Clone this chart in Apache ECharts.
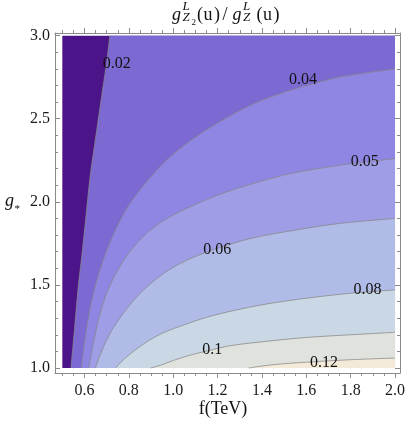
<!DOCTYPE html>
<html>
<head>
<meta charset="utf-8">
<script src="https://cdn.jsdelivr.net/npm/echarts@6/dist/echarts.min.js"></script>
<style>
html,body{margin:0;padding:0;background:#fff;}
#chart{width:409px;height:429px;}
</style>
</head>
<body>
<div id="chart"></div>
<script>
// ---- data ----
const fRange = [0.5, 2.0];          // f (TeV) extent of the plot
const gRange = [1.0, 3.0];          // g* extent of the plot
const levels = [0.02, 0.04, 0.05, 0.06, 0.08, 0.10, 0.12];
// contour lines, points [f, g*]
const c002 = [[0.539,1.0],[0.556,1.25],[0.572,1.49],[0.590,1.70],[0.605,1.89],[0.625,2.15],[0.642,2.31],[0.655,2.43],[0.680,2.66],[0.700,2.84],[0.714,3.0]];
const c004 = [[0.586,1.0],[0.600,1.15],[0.620,1.32],[0.650,1.50],[0.690,1.67],[0.740,1.83],[0.800,1.98],[0.880,2.12],[0.970,2.25],[1.080,2.37],[1.220,2.49],[1.380,2.60],[1.550,2.68],[1.750,2.75],[2.0,2.80]];
const c005 = [[0.619,1.0],[0.640,1.15],[0.665,1.30],[0.700,1.45],[0.750,1.59],[0.810,1.71],[0.880,1.81],[0.960,1.89],[1.060,1.96],[1.200,2.04],[1.360,2.11],[1.530,2.17],[1.750,2.22],[2.0,2.26]];
const c006 = [[0.649,1.0],[0.680,1.11],[0.720,1.22],[0.770,1.32],[0.830,1.42],[0.900,1.51],[0.980,1.59],[1.080,1.66],[1.200,1.72],[1.350,1.78],[1.550,1.83],[1.750,1.87],[2.0,1.90]];
const c008 = [[0.739,1.0],[0.780,1.055],[0.830,1.11],[0.890,1.165],[0.960,1.215],[1.050,1.26],[1.150,1.305],[1.270,1.345],[1.420,1.385],[1.600,1.42],[1.800,1.45],[2.0,1.47]];
const c010 = [[0.898,1.0],[0.950,1.02],[1.000,1.045],[1.070,1.075],[1.160,1.105],[1.260,1.135],[1.450,1.165],[1.610,1.185],[1.800,1.20],[2.0,1.215]];
const c012 = [[1.340,1.0],[1.450,1.02],[1.600,1.035],[1.800,1.05],[2.0,1.06]];
// contour label anchors [f, g*]
const labelPos = [[0.745,2.83],[1.585,2.735],[1.864,2.24],[1.198,1.71],[1.876,1.47],[1.176,1.11],[1.680,1.034]];
// ticks
const xMajor = [0.6,0.8,1.0,1.2,1.4,1.6,1.8,2.0];
const xMinor = [0.5,0.55,0.65,0.7,0.75,0.85,0.9,0.95,1.05,1.1,1.15,1.25,1.3,1.35,1.45,1.5,1.55,1.65,1.7,1.75,1.85,1.9,1.95];
const yMajor = [1.0,1.5,2.0,2.5,3.0];
const yMinor = [1.1,1.2,1.3,1.4,1.6,1.7,1.8,1.9,2.1,2.2,2.3,2.4,2.6,2.7,2.8,2.9];

// ---- styling ----
const bandColors = ['#4b1589','#7c6ad2','#8e86e2','#9e9de5','#b1bbe7','#c9d8e4','#dfe2dd','#f3ead9'];
const lineColor = 'rgba(135,135,135,0.85)';
const frameColor = '#8a8a8a';
const serif = '"Liberation Serif","DejaVu Serif",serif';
const SMOOTH = 0.3;

const contours = [c002, c004, c005, c006, c008, c010, c012];
const corner = (i) => i === 0 ? [[fRange[1], gRange[1]], [fRange[1], gRange[0]]] : [[fRange[1], gRange[0]]];

const series = [];
// background band (below lowest contour)
series.push({
  type: 'custom', xAxisIndex: 0, yAxisIndex: 0, silent: true,
  data: [[fRange[0], gRange[0]], [fRange[1], gRange[1]]],
  renderItem: (params, api) => {
    if (params.dataIndex !== 0) return null;
    const p0 = api.coord([fRange[0], gRange[0]]);
    const p1 = api.coord([fRange[1], gRange[1]]);
    return { type: 'rect', shape: { x: p0[0], y: p1[1], width: p1[0] - p0[0], height: p0[1] - p1[1] }, style: { fill: bandColors[0] } };
  }
});
contours.forEach((pts, i) => {
  series.push({
    type: 'custom', xAxisIndex: 0, yAxisIndex: 0, silent: true,
    data: pts,
    renderItem: (params, api) => {
      if (params.dataIndex !== 0) return null;
      const line = pts.map(p => api.coord(p));
      const first = line[0], last = line[line.length - 1];
      const cs = corner(i).map(p => api.coord(p));
      const poly = [first].concat(line, [last]);
      cs.forEach(c => { poly.push(c, c, c); });
      poly.push(first);
      return { type: 'group', children: [
        { type: 'polygon', shape: { points: poly, smooth: SMOOTH }, style: { fill: bandColors[i + 1] } },
        { type: 'polyline', shape: { points: line, smooth: SMOOTH }, style: { stroke: lineColor, lineWidth: 0.9, fill: null } }
      ]};
    }
  });
});
series.push({
  type: 'custom', xAxisIndex: 0, yAxisIndex: 0, silent: true,
  data: labelPos,
  renderItem: (params, api) => {
    const p = api.coord([api.value(0), api.value(1)]);
    return { type: 'text', x: p[0], y: p[1], style: {
      text: String(levels[params.dataIndex]), font: '16px ' + serif, fill: '#111',
      align: 'center', verticalAlign: 'middle', textAlign: 'center', textVerticalAlign: 'middle' } };
  }
});

const fmt = v => Number(v).toFixed(1);
const baseAxis = (extra) => Object.assign({
  type: 'value', gridIndex: 0, splitLine: { show: false },
  axisLine: { show: false, lineStyle: { color: frameColor, width: 1 } },
  axisTick: { show: true, lineStyle: { color: frameColor, width: 1 } },
  axisLabel: { show: false }
}, extra);

const xMin = 0.467, xMax = 2.0225, yMin = 0.97, yMax = 3.016;

const option = {
  animation: false,
  backgroundColor: '#fff',
  grid: { left: 55, top: 33, width: 345, height: 340 },
  xAxis: [
    baseAxis({ position: 'bottom', min: xMin, max: xMax,
      axisLine: { show: true, onZero: false, lineStyle: { color: frameColor } },
      axisTick: { show: true, inside: false, length: 5, customValues: xMajor, lineStyle: { color: frameColor } },
      axisLabel: { show: true, customValues: xMajor, formatter: fmt, margin: 10, color: '#1a1a1a', fontSize: 16, fontFamily: serif } }),
    baseAxis({ position: 'bottom', min: xMin, max: xMax,
      axisTick: { show: true, inside: false, length: 3, customValues: xMinor, lineStyle: { color: frameColor } } }),
    baseAxis({ position: 'top', min: xMin, max: xMax,
      axisLine: { show: true, onZero: false, lineStyle: { color: frameColor } },
      axisTick: { show: true, inside: false, length: 5, customValues: xMajor, lineStyle: { color: frameColor } } }),
    baseAxis({ position: 'top', min: xMin, max: xMax,
      axisTick: { show: true, inside: false, length: 3, customValues: xMinor, lineStyle: { color: frameColor } } })
  ],
  yAxis: [
    baseAxis({ position: 'left', min: yMin, max: yMax,
      axisLine: { show: true, onZero: false, lineStyle: { color: frameColor } },
      axisTick: { show: true, inside: true, length: 5, customValues: yMajor, lineStyle: { color: frameColor } },
      axisLabel: { show: true, customValues: yMajor, formatter: fmt, margin: 5, color: '#1a1a1a', fontSize: 16, fontFamily: serif } }),
    baseAxis({ position: 'left', min: yMin, max: yMax,
      axisTick: { show: true, inside: true, length: 3, customValues: yMinor, lineStyle: { color: frameColor } } }),
    baseAxis({ position: 'right', min: yMin, max: yMax,
      axisLine: { show: true, onZero: false, lineStyle: { color: frameColor } },
      axisTick: { show: true, inside: true, length: 5, customValues: yMajor, lineStyle: { color: frameColor } } }),
    baseAxis({ position: 'right', min: yMin, max: yMax,
      axisTick: { show: true, inside: true, length: 3, customValues: yMinor, lineStyle: { color: frameColor } } })
  ],
  series: series,
  graphic: [
    // title g^L_{Z2}(u)/g^L_Z(u)
    { type: 'text', x: 172, y: 15.4, style: { text: 'g', font: 'italic 18px ' + serif, fill: '#111', verticalAlign: 'middle', textVerticalAlign: 'middle' } },
    { type: 'text', x: 182.5, y: 7, style: { text: 'L', font: 'italic 13px ' + serif, fill: '#111', verticalAlign: 'middle', textVerticalAlign: 'middle' } },
    { type: 'text', x: 182.5, y: 17.5, style: { text: 'Z', font: 'italic 13px ' + serif, fill: '#111', verticalAlign: 'middle', textVerticalAlign: 'middle' } },
    { type: 'text', x: 191.5, y: 22.5, style: { text: '2', font: '9px ' + serif, fill: '#111', verticalAlign: 'middle', textVerticalAlign: 'middle' } },
    { type: 'text', x: 197, y: 15.4, style: { text: '(', font: '18px ' + serif, fill: '#111', verticalAlign: 'middle', textVerticalAlign: 'middle' } },
    { type: 'text', x: 203.5, y: 15.4, style: { text: 'u', font: '18px ' + serif, fill: '#111', verticalAlign: 'middle', textVerticalAlign: 'middle' } },
    { type: 'text', x: 214, y: 15.4, style: { text: ')', font: '18px ' + serif, fill: '#111', verticalAlign: 'middle', textVerticalAlign: 'middle' } },
    { type: 'text', x: 222.5, y: 15.4, style: { text: '/', font: '18px ' + serif, fill: '#111', verticalAlign: 'middle', textVerticalAlign: 'middle' } },
    { type: 'text', x: 232.5, y: 15.4, style: { text: 'g', font: 'italic 18px ' + serif, fill: '#111', verticalAlign: 'middle', textVerticalAlign: 'middle' } },
    { type: 'text', x: 243, y: 7, style: { text: 'L', font: 'italic 13px ' + serif, fill: '#111', verticalAlign: 'middle', textVerticalAlign: 'middle' } },
    { type: 'text', x: 243, y: 17.5, style: { text: 'Z', font: 'italic 13px ' + serif, fill: '#111', verticalAlign: 'middle', textVerticalAlign: 'middle' } },
    { type: 'text', x: 256.5, y: 15.4, style: { text: '(', font: '18px ' + serif, fill: '#111', verticalAlign: 'middle', textVerticalAlign: 'middle' } },
    { type: 'text', x: 263, y: 15.4, style: { text: 'u', font: '18px ' + serif, fill: '#111', verticalAlign: 'middle', textVerticalAlign: 'middle' } },
    { type: 'text', x: 273.5, y: 15.4, style: { text: ')', font: '18px ' + serif, fill: '#111', verticalAlign: 'middle', textVerticalAlign: 'middle' } },
    // x axis name
    { type: 'text', x: 223, y: 409, style: { text: 'f(TeV)', font: '18px ' + serif, fill: '#111', align: 'center', textAlign: 'center', verticalAlign: 'middle', textVerticalAlign: 'middle' } },
    // y axis name g*
    { type: 'text', x: 5, y: 201, style: { text: 'g', font: 'italic 18px ' + serif, fill: '#111', verticalAlign: 'middle', textVerticalAlign: 'middle' } },
    { type: 'text', x: 14.5, y: 209, style: { text: '*', font: '11px ' + serif, fill: '#111', verticalAlign: 'middle', textVerticalAlign: 'middle' } }
  ]
};

const chart = echarts.init(document.getElementById('chart'), null, { renderer: 'canvas' });
chart.setOption(option);
</script>
</body>
</html>
